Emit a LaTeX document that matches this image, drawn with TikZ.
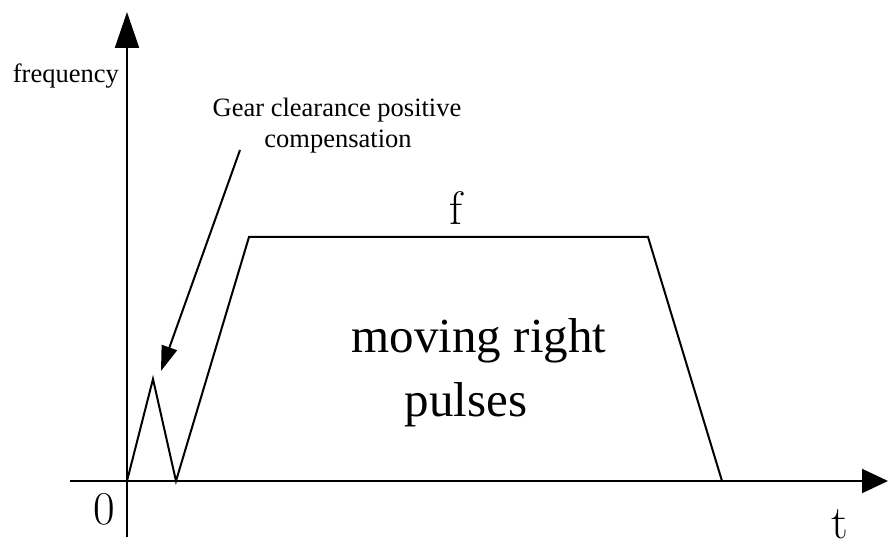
\documentclass[tikz,border=0pt]{standalone}
\usepackage{fontspec}
\newfontfamily\tnr{Liberation Serif}
\usetikzlibrary{arrows.meta}
\tikzset{
  axisline/.style={line width=2pt, -{Triangle[length=36pt,width=24pt]}},
  xaxisline/.style={line width=2pt, -{Triangle[length=26pt,width=24pt]}},
  curve/.style={line width=2pt, line join=miter},
  pointer/.style={line width=2pt, -{Triangle[length=25pt,width=16pt]}},
  smalltxt/.style={inner sep=0pt, font=\tnr\fontsize{26.5}{31}\selectfont},
  bigtxt/.style={inner sep=0pt, font=\tnr\fontsize{49}{64}\selectfont},
  symtxt/.style={inner sep=0pt, font=\fontsize{47}{50}\selectfont},
}
\begin{document}
\begin{tikzpicture}[x=1pt,y=1pt]
\useasboundingbox (0,0) rectangle (888,543);
% axes
\coordinate (ybot) at (127,6);
\coordinate (ytop) at (127,531);
\coordinate (xleft) at (70,62);
\coordinate (xright) at (888,62);
\draw[axisline] (ybot) -- (ytop);
\draw[xaxisline] (xleft) -- (xright);
% curve
\coordinate (o) at (127,62);
\coordinate (p1) at (153,164);
\coordinate (p2) at (176,62);
\coordinate (p3) at (249,306);
\coordinate (p4) at (648,306);
\coordinate (p5) at (722,62);
\draw[curve] (o) -- (p1) -- (p2) -- (p3) -- (p4) -- (p5);
% pointer
\coordinate (ps) at (240,393);
\coordinate (pe) at (161,172);
\draw[pointer] (ps) -- (pe);
% labels
\node[smalltxt, anchor=base east] (freq) at (119,460) {frequency};
\node[smalltxt, anchor=base] (gear1) at (337,426) {Gear clearance positive};
\node[smalltxt, anchor=base] (gear2) at (338,395) {compensation};
\node[bigtxt, anchor=base] (mv) at (479,190) {moving right};
\node[bigtxt, anchor=base] (pl) at (466,126) {pulses};
\node[symtxt, anchor=base] (flab) at (456,318) {f};
\node[symtxt, anchor=base] (zero) at (104,18) {0};
\node[symtxt, anchor=base] (tlab) at (840,5) {t};
\end{tikzpicture}
\end{document}
